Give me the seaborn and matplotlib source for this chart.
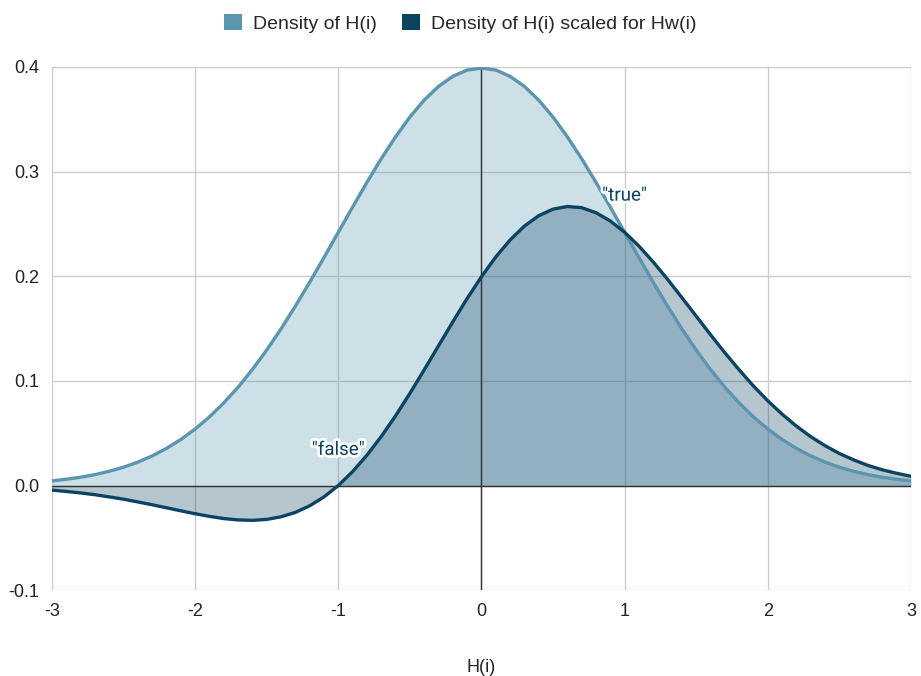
import matplotlib
matplotlib.use("Agg")
import matplotlib.pyplot as plt
import matplotlib.patheffects as pe
from matplotlib.patches import Patch
import pandas as pd
import seaborn as sns

# ==============================
# DATA (step 0.1)
# ==============================
x_vals = [round(-3 + 0.1 * i, 1) for i in range(61)]

density_h = [
    0.0044, 0.0060, 0.0079, 0.0104, 0.0136, 0.0175, 0.0224, 0.0283, 0.0355, 0.0440,
    0.0540, 0.0656, 0.0790, 0.0940, 0.1109, 0.1295, 0.1497, 0.1714, 0.1942, 0.2179,
    0.2420, 0.2661, 0.2897, 0.3123, 0.3332, 0.3521, 0.3683, 0.3814, 0.3910, 0.3970,
    0.3989,
    0.3970, 0.3910, 0.3814, 0.3683, 0.3521, 0.3332, 0.3123, 0.2897, 0.2661, 0.2420,
    0.2179, 0.1942, 0.1714, 0.1497, 0.1295, 0.1109, 0.0940, 0.0790, 0.0656, 0.0540,
    0.0440, 0.0355, 0.0283, 0.0224, 0.0175, 0.0136, 0.0104, 0.0079, 0.0060, 0.0044,
]

density_hw = [
    -0.0044, -0.0057, -0.0071, -0.0088, -0.0109, -0.0131, -0.0157, -0.0184, -0.0213, -0.0242,
    -0.0270, -0.0295, -0.0316, -0.0329, -0.0333, -0.0324, -0.0299, -0.0257, -0.0194, -0.0109,
    0.0000, 0.0133, 0.0290, 0.0468, 0.0666, 0.0880, 0.1105, 0.1335, 0.1564, 0.1787,
    0.1995,
    0.2184, 0.2346, 0.2479, 0.2578, 0.2641, 0.2666, 0.2655, 0.2607, 0.2528, 0.2420,
    0.2288, 0.2136, 0.1971, 0.1796, 0.1619, 0.1442, 0.1269, 0.1106, 0.0951, 0.0810,
    0.0682, 0.0568, 0.0467, 0.0381, 0.0306, 0.0245, 0.0192, 0.0150, 0.0117, 0.0088,
]

series_names = ["Density of H(i)", "Density of H(i) scaled for Hw(i)"]
x_ticks = [-3, -2, -1, 0, 1, 2, 3]
y_ticks = [-0.1, 0.0, 0.1, 0.2, 0.3, 0.4]

LIGHT = "#5b95b0"
DARK = "#0b4463"

df = pd.DataFrame({"x": x_vals, "light": density_h, "dark": density_hw})

# ==============================
# PLOT
# ==============================
sns.set_theme(style="whitegrid")
plt.rcParams["font.family"] = ["Liberation Sans", "DejaVu Sans"]

fig = plt.figure(figsize=(9.21, 6.76), dpi=100)
ax = fig.add_axes([0.0565, 0.127, 0.9325, 0.774])

ax.fill_between(df["x"], 0, df["light"], color=LIGHT, alpha=0.3, lw=0, zorder=1)
ax.fill_between(df["x"], 0, df["dark"], color=DARK, alpha=0.3, lw=0, zorder=1)

ax.axhline(0, color="#333333", lw=1, zorder=2)
ax.axvline(0, color="#333333", lw=1, zorder=2)

sns.lineplot(data=df, x="x", y="light", color=LIGHT, lw=2.4, ax=ax, zorder=3)
sns.lineplot(data=df, x="x", y="dark", color=DARK, lw=2.4, ax=ax, zorder=4)

ax.set_xlim(-3, 3)
ax.set_ylim(-0.1, 0.4)
ax.set_xticks(x_ticks)
ax.set_yticks(y_ticks)
ax.set_xticklabels([str(t) for t in x_ticks], fontsize=13, color="#222222")
ax.set_yticklabels([f"{t:.1f}" for t in y_ticks], fontsize=13, color="#222222")
ax.tick_params(axis="x", pad=9, length=0)
ax.tick_params(axis="y", pad=9, length=0)
ax.grid(True, color="#cccccc", lw=1)
for s in ax.spines.values():
    s.set_visible(False)
ax.set_xlabel("H(i)", fontsize=13, color="#222222", labelpad=28)
ax.set_ylabel("")

halo = [pe.withStroke(linewidth=4, foreground="white")]
ax.text(-1.0, 0.034, '"false"', family=["Roboto", "DejaVu Sans"], fontsize=13.5,
        color=DARK, ha="center", va="center", path_effects=halo, zorder=6)
ax.text(1.0, 0.277, '"true"', family=["Roboto", "DejaVu Sans"], fontsize=13.5,
        color=DARK, ha="center", va="center", path_effects=halo, zorder=6)

handles = [Patch(facecolor=LIGHT, edgecolor="none"), Patch(facecolor=DARK, edgecolor="none")]
fig.legend(handles, series_names, loc="upper center", bbox_to_anchor=(0.5, 1.005),
           ncol=2, frameon=False, fontsize=14, handlelength=0.9, handleheight=0.9,
           handletextpad=0.6, columnspacing=1.3)

fig.savefig("out.png", dpi=100)
plt.close(fig)
